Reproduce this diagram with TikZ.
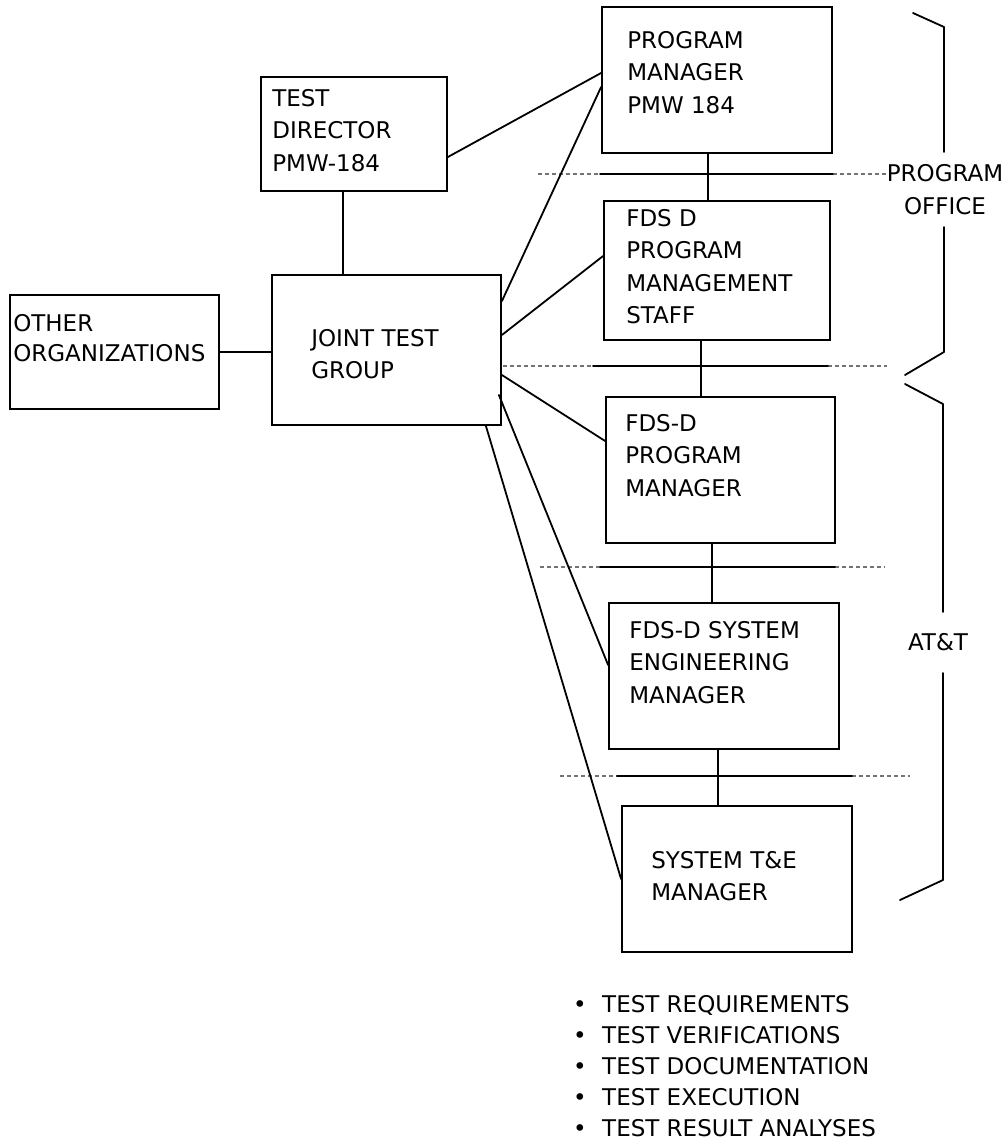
\documentclass[tikz,border=0pt]{standalone}
\usepackage{fontspec}
\setmainfont{DejaVu Sans}
\usetikzlibrary{calc}
\newcommand{\bul}{\makebox[29pt][l]{\textbullet}}

\begin{document}
\begin{tikzpicture}
    [line cap=round,line join=round,x=1pt,y=-1pt,
     box/.style={draw,line width=1.8pt,line join=miter,rectangle,inner sep=0pt},
     boxtext/.style={anchor=north west,align=left,inner sep=0pt,font=\fontsize{23}{32.5}\selectfont},
     sidetext/.style={align=center,inner sep=0pt,font=\fontsize{23}{33}\selectfont},
     link/.style={line width=1.8pt},
     sepdash/.style={black!55,line width=1.1pt,line cap=butt,dash pattern=on 4pt off 3pt},
     sepline/.style={line width=1.8pt}]
\useasboundingbox (0,0) rectangle (1008,1145);
%main layer
%the boxes
\node[box,minimum width=230,minimum height=146] (pm) at (717,80) {};
\node[box,minimum width=186,minimum height=114] (td) at (354,134) {};
\node[box,minimum width=226,minimum height=139] (staff) at (717,270.5) {};
\node[box,minimum width=229,minimum height=150] (jtg) at (386.5,350) {};
\node[box,minimum width=209,minimum height=114] (oth) at (114.5,352) {};
\node[box,minimum width=229,minimum height=146] (fpm) at (720.5,470) {};
\node[box,minimum width=230,minimum height=146] (se) at (724,676) {};
\node[box,minimum width=230,minimum height=146] (te) at (737,879) {};

%texts in the boxes
\node[boxtext] (pmtext) at ([shift={(26,25)}]pm.north west) {PROGRAM\\MANAGER\\PMW 184};
\node[boxtext] (tdtext) at ([shift={(12,13)}]td.north west) {TEST\\DIRECTOR\\PMW-184};
\node[boxtext] (stafftext) at ([shift={(23,9)}]staff.north west) {FDS D\\PROGRAM\\MANAGEMENT\\STAFF};
\node[boxtext] (jtgtext) at ([shift={(40,55)}]jtg.north west) {JOINT TEST\\GROUP};
\node[boxtext,font=\fontsize{23}{30}\selectfont] (othtext) at ([shift={(4,20)}]oth.north west) {OTHER\\ORGANIZATIONS};
\node[boxtext] (fpmtext) at ([shift={(20,18)}]fpm.north west) {FDS-D\\PROGRAM\\MANAGER};
\node[boxtext] (setext) at ([shift={(21,19)}]se.north west) {FDS-D SYSTEM\\ENGINEERING\\MANAGER};
\node[boxtext] (tetext) at ([shift={(30,46)}]te.north west) {SYSTEM T\&E\\MANAGER};

%separating lines, dashed ends
\foreach \y/\a/\b/\c/\d in {174/538/600/833/887, 366/503/593/828/887, 567/540/600/835/885, 776/560/617/852/910}{
  \draw[sepdash] (\a,\y) -- (\b,\y);
  \draw[sepdash] (\c,\y) -- (\d,\y);
  \draw[sepline] (\b,\y) -- (\c,\y);
}

%connectors
\draw[link] ([yshift=-23pt]td.east) -- ([yshift=7pt]pm.west);
\draw[link] ([xshift=-11pt]td.south) -- ([xshift=-11pt]td.south |- jtg.north);
\draw[link] (oth.east) -- (oth.east -| jtg.west);
\draw[link] ([yshift=-27pt]jtg.north east) -- ([yshift=-7pt]pm.west);
\draw[link] ([yshift=15pt]jtg.east) -- ([yshift=14.5pt]staff.west);
\draw[link] ([yshift=-25pt]jtg.east) -- ([yshift=29pt]fpm.west);
\draw[link] ([shift={(-3pt,-45pt)}]jtg.east) -- ([yshift=11pt]se.west);
\draw[link] ([xshift=-16pt]jtg.south east) -- (te.west);
\draw[link] ([xshift=-9pt]pm.south) -- ([xshift=-9pt]pm.south |- staff.north);
\draw[link] ([xshift=-16pt]staff.south) -- ([xshift=-16pt]staff.south |- fpm.north);
\draw[link] ([xshift=-8.5pt]fpm.south) -- ([xshift=-8.5pt]fpm.south |- se.north);
\draw[link] ([xshift=-6pt]se.south) -- ([xshift=-6pt]se.south |- te.north);

%the two brackets
\node[sidetext] (po) at (945,190) {PROGRAM\\OFFICE};
\node[sidetext] (att) at (938,642) {AT\&T};
\draw[link] (913,13) -- (944,27) -- (944,152);
\draw[link] (944,227) -- (944,352) -- (905,375);
\draw[link] (905,384) -- (943,404) -- (943,612);
\draw[link] (943,673) -- (943,880) -- (900,900);

%list of tasks
\node[boxtext,font=\fontsize{23}{31}\selectfont] (tasks) at (573,995)
  {\bul TEST REQUIREMENTS\\\bul TEST VERIFICATIONS\\\bul TEST DOCUMENTATION\\\bul TEST EXECUTION\\\bul TEST RESULT ANALYSES};
\end{tikzpicture}
\end{document}
